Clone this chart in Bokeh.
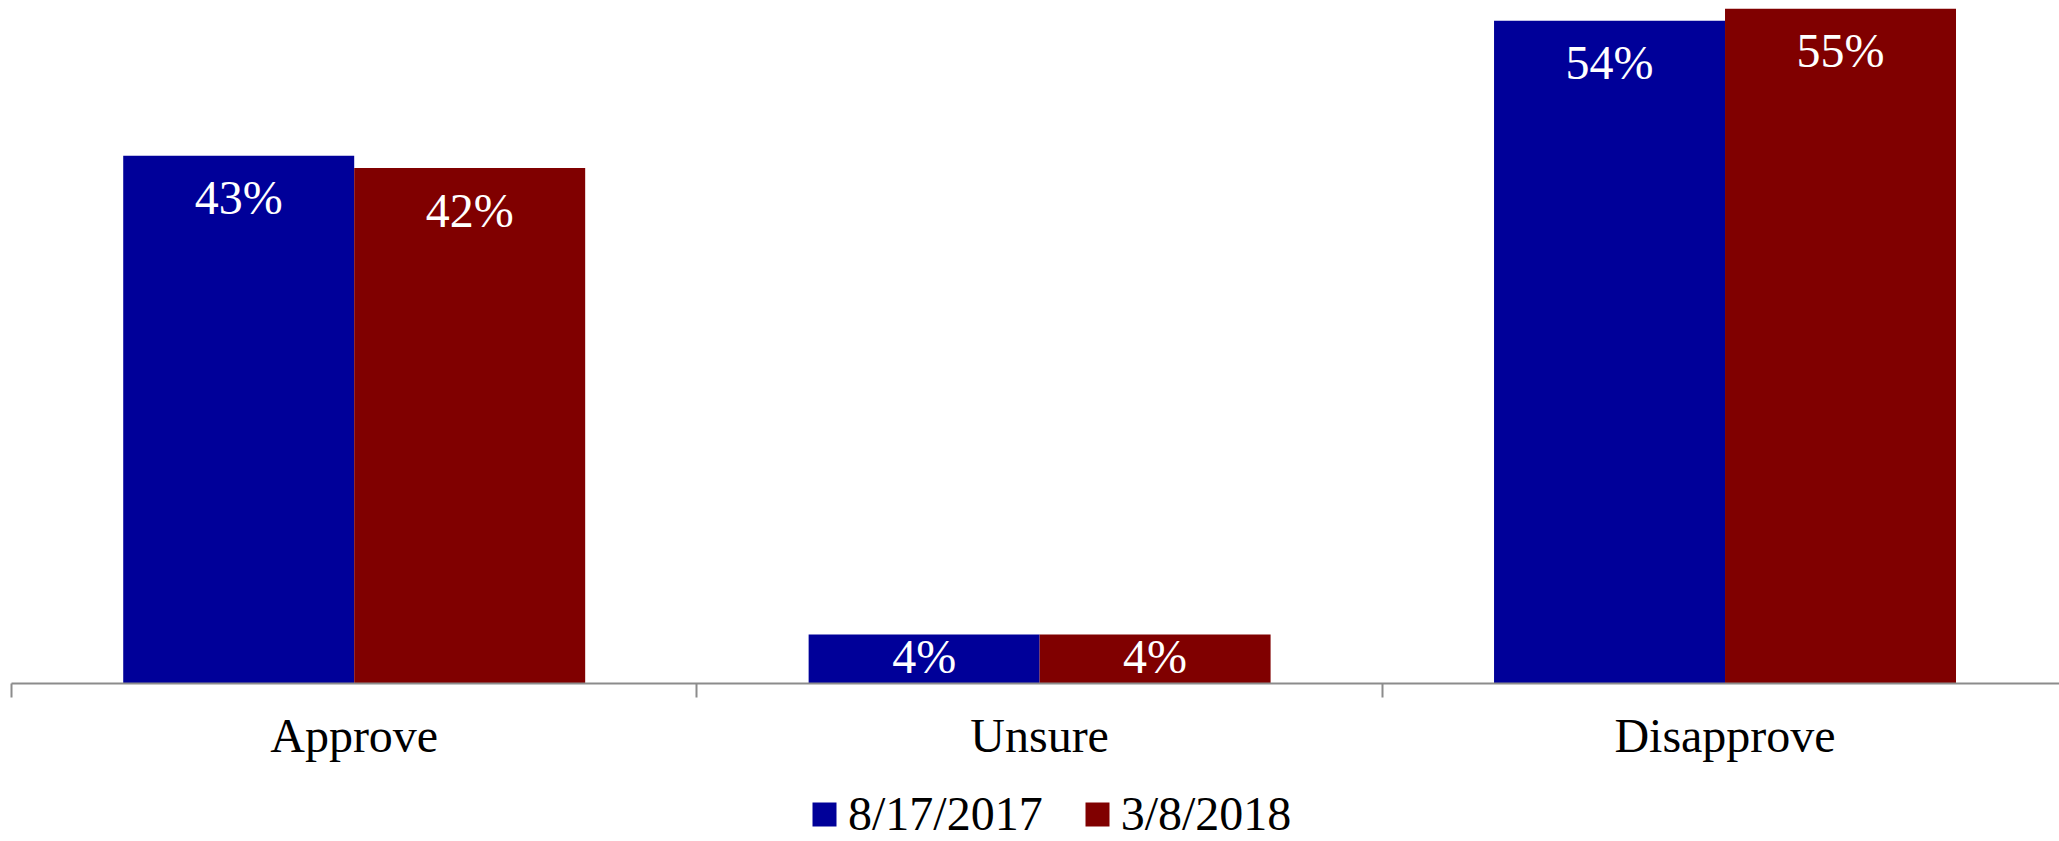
from bokeh.plotting import figure
from bokeh.layouts import column
from bokeh.models import ColumnDataSource, Range1d, LinearAxis, FixedTicker, Legend, LegendItem
from bokeh.core.properties import value
from bokeh.embed import file_html
from bokeh.resources import INLINE

categories = ["Approve", "Unsure", "Disapprove"]
series_names = ["8/17/2017", "3/8/2018"]
values_2017 = [43, 4, 54]
values_2018 = [42, 4, 55]
colors = ["#000099", "#800000"]

FONT = "Liberation Serif"
FS = "48px"

p = figure(frame_width=2048, frame_height=675, output_backend="svg", toolbar_location=None,
           x_range=Range1d(0, 2.988), y_range=Range1d(0, 55.0),
           min_border_left=11, min_border_right=0, min_border_top=8, min_border_bottom=100)
p.outline_line_color = None
p.grid.visible = False
p.yaxis.visible = False
p.xaxis.visible = False
p.background_fill_color = "white"
p.border_fill_color = "white"

offsets = [-0.1685, 0.1685]
bw = 0.337
sources = []
for k, vals in enumerate([values_2017, values_2018]):
    xs = [i + 0.5 + offsets[k] for i in range(len(categories))]
    labels = [f"{v}%" for v in vals]
    # label placement: inside end, or centred when the bar is short
    ly = [v if v >= 10 else v / 2 for v in vals]
    lo = [42 if v >= 10 else -2 for v in vals]
    src = ColumnDataSource(dict(x=xs, top=vals, label=labels, ly=ly, lo=lo))
    sources.append(src)
    p.vbar(x="x", top="top", bottom=0, width=bw, source=src,
           fill_color=colors[k], line_color=None)
    p.text(x="x", y="ly", text="label", source=src, text_align="center",
           text_baseline="middle", y_offset="lo", text_color="white",
           text_font=value(FONT), text_font_size=FS)

# category axis: labels at group centres, separator ticks at group boundaries
ax = LinearAxis(ticker=FixedTicker(ticks=[i + 0.5 for i in range(len(categories))],
                                   minor_ticks=[i for i in range(len(categories) + 1)]),
                major_label_overrides={i + 0.5: c for i, c in enumerate(categories)},
                axis_line_color="#8c8c8c", axis_line_width=2,
                major_tick_line_color=None,
                minor_tick_line_color="#8c8c8c", minor_tick_line_width=2,
                minor_tick_in=0, minor_tick_out=14,
                major_label_text_font=FONT, major_label_text_font_size=FS,
                major_label_text_color="black", major_label_standoff=11)
p.add_layout(ax, "below")

# legend strip below the chart (series renderers re-used from the same data,
# with a y range that keeps the bars themselves out of view)
p2 = figure(width=2059, height=58, output_backend="svg", toolbar_location=None,
            x_range=Range1d(0, 2.988), y_range=Range1d(1000, 1001),
            min_border_left=0, min_border_right=0, min_border_top=0, min_border_bottom=0)
p2.outline_line_color = None
p2.grid.visible = False
p2.axis.visible = False
p2.background_fill_color = "white"
p2.border_fill_color = "white"
proxies = [p2.vbar(x="x", top="top", bottom=0, width=bw, source=sources[k],
                   fill_color=colors[k], line_color=None) for k in range(2)]
legend = Legend(items=[LegendItem(label=series_names[k], renderers=[proxies[k]]) for k in range(2)],
                orientation="horizontal", location=(798, 0),
                label_text_font=FONT, label_text_font_size=FS, label_text_color="black",
                glyph_width=30, glyph_height=30, label_standoff=9, spacing=39,
                padding=0, margin=0, border_line_color=None, background_fill_alpha=0)
p2.add_layout(legend, "center")

layout = column(p, p2, spacing=0)
open("out.html", "w").write(file_html(layout, INLINE))
